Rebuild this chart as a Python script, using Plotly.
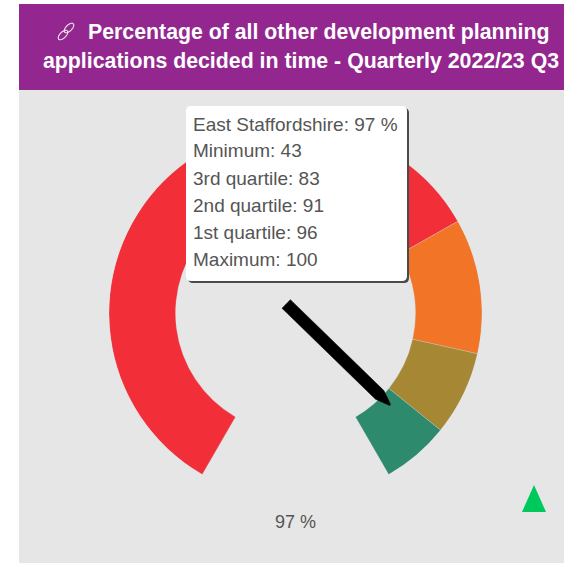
import math
import plotly.graph_objects as go

W, H = 564, 563
TITLE_LINES = ["Percentage of all other development planning",
               "applications decided in time - Quarterly 2022/23 Q3"]
AREA = "East Staffordshire"
VALUE = 97
UNIT = "%"
STAT_LABELS = ["Minimum", "3rd quartile", "2nd quartile", "1st quartile", "Maximum"]
STAT_VALUES = [43, 83, 91, 96, 100]
BAND_COLORS = ["#f22f38", "#f27527", "#a68834", "#2e8a6d"]

GMIN, GMAX = STAT_VALUES[0], STAT_VALUES[-1]
def ang(v):
    return (v - GMIN) / (GMAX - GMIN) * 300 - 150
def px(x): return x / W
def py(y): return 1 - y / H

CX, CY, R = 295.5, 313, 186.5
INNER = 120 / R

fig = go.Figure()
edges = STAT_VALUES[:4] + [GMAX]
for lo, hi, c in zip(edges[:-1], edges[1:], BAND_COLORS):
    a, b = ang(lo), ang(hi)
    fig.add_trace(go.Barpolar(theta=[(a + b) / 2], width=[b - a], base=[INNER], r=[1 - INNER],
                              marker=dict(color=c, line=dict(color="rgba(213,220,236,0.7)", width=0.4)),
                              hoverinfo="skip", showlegend=False))

# needle
th = ang(VALUE)
L, back, hw, tip_w = 132 / R, 13 / R, 6 / R, 0.7 / R
base = 0.89 * L
outline = [(-back, hw), (base, hw), (L, tip_w), (L, -tip_w), (base, -hw), (-back, -hw), (-back, hw)]
rs = [math.hypot(d, w) for d, w in outline]
ts = [th + math.degrees(math.atan2(w, d)) for d, w in outline]
fig.add_trace(go.Scatterpolar(r=rs, theta=ts, mode="lines", fill="toself", fillcolor="#000000",
                              line=dict(color="#000000", width=0.5), hoverinfo="skip", showlegend=False))

def rect(x0, y0, x1, y1, color, layer="below"):
    return dict(type="rect", xref="paper", yref="paper", x0=px(x0), x1=px(x1), y0=py(y0), y1=py(y1),
                fillcolor=color, line=dict(width=0), layer=layer)

def rrect(x0, y0, x1, y1, r, color):
    X0, X1, Y0, Y1 = px(x0), px(x1), py(y0), py(y1)
    rx, ry = r / W, r / H
    p = (f"M{X0+rx},{Y0} L{X1-rx},{Y0} Q{X1},{Y0} {X1},{Y0-ry} L{X1},{Y1+ry} Q{X1},{Y1} {X1-rx},{Y1} "
         f"L{X0+rx},{Y1} Q{X0},{Y1} {X0},{Y1+ry} L{X0},{Y0-ry} Q{X0},{Y0} {X0+rx},{Y0} Z")
    return dict(type="path", xref="paper", yref="paper", path=p, fillcolor=color, line=dict(width=0), layer="above")

def poly(pts, color):
    p = "M" + " L".join(f"{px(x)},{py(y)}" for x, y in pts) + " Z"
    return dict(type="path", xref="paper", yref="paper", path=p, fillcolor=color, line=dict(width=0), layer="above")

def link(cx, cy, color):
    pts = []
    for i in range(41):
        t = 2 * math.pi * i / 40
        u, v = 6.0 * math.cos(t), 3.0 * math.sin(t)
        pts.append((cx + (u - v) * 0.707, cy - (u + v) * 0.707))
    p = "M" + " L".join(f"{px(x)},{py(y)}" for x, y in pts)
    return dict(type="path", xref="paper", yref="paper", path=p, line=dict(color=color, width=1.1), layer="above")

shapes = [
    rect(19, 4, W, 90, "#93278f"),
    rect(19, 90, W, H, "#e6e6e6"),
    rrect(188, 108, 409, 283, 5, "#4a4a4a"),
    rrect(186, 106, 407, 281, 5, "#ffffff"),
    poly([(534, 485), (546, 512), (522, 512)], "#00c95c"),
    link(69, 28, "#f3e6f2"),
    link(63, 35, "#f3e6f2"),
]

TITLE_FONT = dict(family="Liberation Sans", size=21.3, color="#ffffff")
TIP_FONT = dict(family="Liberation Sans", size=19, color="#555555")
def note(text, x, y, font, anchor="left"):
    return dict(text=text, x=px(x), y=py(y), xref="paper", yref="paper", xanchor=anchor, yanchor="middle",
                showarrow=False, font=font, borderpad=0)

tip_lines = [f"{AREA}: {VALUE} {UNIT}"] + [f"{l}: {v}" for l, v in zip(STAT_LABELS, STAT_VALUES)]
annotations = [note(f"<b>{TITLE_LINES[0]}</b>", 87, 32, TITLE_FONT),
               note(f"<b>{TITLE_LINES[1]}</b>", 301, 61, TITLE_FONT, "center"),
               note(f"{VALUE} {UNIT}", 295.5, 522, dict(family="Liberation Sans", size=18, color="#555555"), "center")]
annotations += [note(t, 192, 124 + 27 * i, TIP_FONT) for i, t in enumerate(tip_lines)]

fig.update_layout(
    width=W, height=H, autosize=False,
    margin=dict(l=0, r=0, t=0, b=0),
    paper_bgcolor="#ffffff",
    polar=dict(
        domain=dict(x=[px(CX - R), px(CX + R)], y=[py(CY + R), py(CY - R)]),
        bgcolor="rgba(0,0,0,0)",
        angularaxis=dict(direction="clockwise", rotation=90, visible=False, showgrid=False, showline=False, ticks=""),
        radialaxis=dict(range=[0, 1], visible=False, showgrid=False, showline=False, ticks=""),
    ),
    shapes=shapes, annotations=annotations, showlegend=False,
)
fig.write_html("out.html", config=dict(displayModeBar=False),
               post_script="document.documentElement.style.overflow='hidden';document.body.style.margin='0';document.body.style.overflow='hidden';")
